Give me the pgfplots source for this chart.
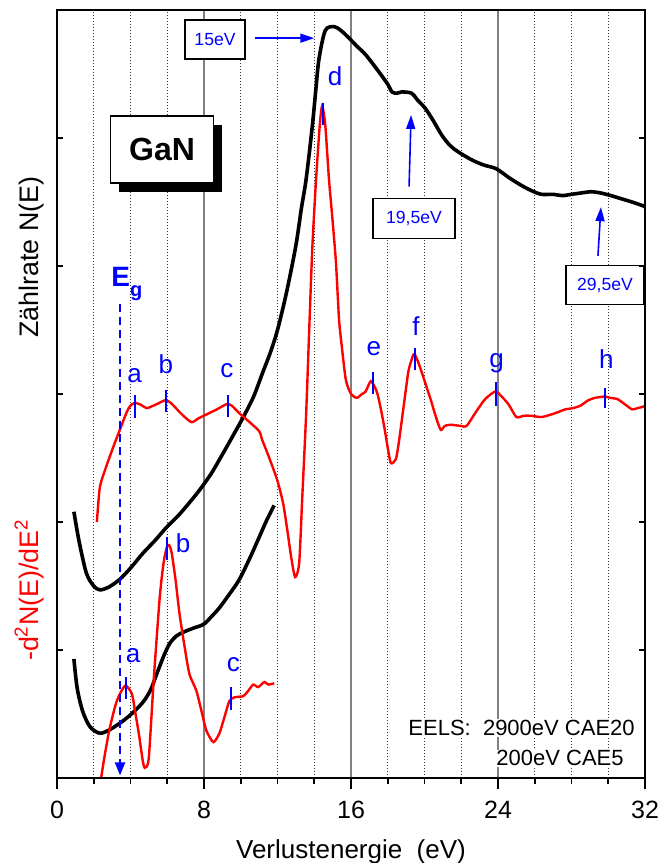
\documentclass[border=0pt]{standalone}
\usepackage{fontspec}
\setmainfont{Liberation Sans}
\usepackage{pgfplots}
\pgfplotsset{compat=1.18}
\usetikzlibrary{arrows.meta,shadows}
\definecolor{eblue}{RGB}{0,0,255}
\definecolor{ered}{RGB}{255,0,0}
\tikzset{
  pk/.style={eblue, line width=0.9bp},
  pkl/.style={text=eblue, font=\fontsize{13bp}{15bp}\selectfont, anchor=base, inner sep=0pt},
  ebox/.style={draw=black, line width=0.7bp, fill=white, text=eblue, inner sep=0pt,
               font=\fontsize{8.8bp}{10bp}\selectfont, minimum height=19.5bp},
  barr/.style={eblue, line width=0.8bp, -{Triangle[length=7bp,width=4.5bp]}},
}
\begin{document}
\begin{tikzpicture}
\begin{axis}[
  scale only axis, width=294bp, height=384bp,
  xmin=0, xmax=32, ymin=0, ymax=6,
  xtick={0,8,...,32}, minor xtick={2,4,6,10,12,14,18,20,22,26,28,30}, ytick=\empty,
  xtick pos=bottom, tick align=outside,
  major tick length=5.5bp, minor tick length=3bp,
  every tick/.style={black, line width=0.8bp},
  xmajorgrids, xminorgrids,
  major grid style={gray, line width=0.7bp},
  minor grid style={black!80, line width=0.4bp, dash pattern=on 0.6bp off 0.9bp},
  axis line style={line width=1.1bp},
  ticklabel style={font=\fontsize{12.5bp}{15bp}\selectfont},
  xticklabel style={yshift=-2.3bp},
  /pgf/number format/assume math mode=true,
  xlabel={Verlustenergie\ \ (eV)},
  xlabel style={font=\fontsize{13bp}{15bp}\selectfont, at={(axis description cs:0.5,0)},
                anchor=base, yshift=-40bp},
  clip=false,
]
% N(E), 2900 eV
\addplot[black, line width=1.8bp, smooth] coordinates {
(0.92,2.08) (1.2,1.85) (1.6,1.6) (2.0,1.5) (2.33,1.47) (2.8,1.49) (3.4,1.55) (4.0,1.64)
(4.7,1.76) (5.3,1.85) (5.97,1.96) (6.6,2.05) (7.2,2.15) (7.76,2.25) (8.4,2.38) (9.05,2.54)
(9.6,2.68) (10.14,2.82) (10.7,2.98) (11.2,3.17) (11.6,3.32) (12.0,3.5) (12.5,3.8) (13.0,4.16)
(13.3,4.45) (13.56,4.68) (13.9,5.1) (14.1,5.4) (14.26,5.62) (14.6,5.84) (15.08,5.87) (15.45,5.84)
(15.9,5.78) (16.3,5.72) (16.8,5.65) (17.5,5.52) (18.0,5.42) (18.23,5.36) (18.5,5.35) (18.77,5.36)
(19.3,5.35) (19.6,5.3) (20.05,5.23) (20.5,5.13) (20.95,5.02) (21.4,4.94) (21.85,4.89) (22.56,4.83)
(23.2,4.79) (23.9,4.76) (24.6,4.69) (25.27,4.63) (25.8,4.59) (26.36,4.56) (27.0,4.56) (27.5,4.55)
(28.0,4.56) (28.5,4.57) (29.07,4.58) (29.6,4.57) (30.15,4.55) (30.6,4.53) (31.07,4.51) (31.5,4.49)
(31.9,4.47) (32,4.46)};
% N(E), 200 eV
\addplot[black, line width=1.8bp, smooth] coordinates {
(0.92,0.93) (1.1,0.7) (1.4,0.52) (1.8,0.4) (2.33,0.35) (2.9,0.38) (3.63,0.45) (4.2,0.52)
(4.72,0.6) (5.1,0.69) (5.42,0.81) (5.8,0.95) (6.13,1.05) (6.5,1.11) (6.89,1.14) (7.4,1.17)
(7.97,1.2) (8.4,1.26) (8.84,1.33) (9.4,1.44) (9.92,1.55) (10.5,1.72) (11.0,1.88) (11.4,2.01)
(11.82,2.13)};
% -d2N/dE2, 2900 eV
\addplot[ered, line width=1.2bp, smooth, tension=0.4] coordinates {
(2.17,2.0) (2.33,2.27) (2.6,2.4) (2.87,2.51) (3.15,2.62) (3.42,2.72) (3.8,2.86) (4.0,2.91)
(4.23,2.93) (4.5,2.92) (4.88,2.89) (5.1,2.9) (5.42,2.92) (5.86,2.95) (6.1,2.94) (6.34,2.91)
(6.8,2.84) (7.32,2.78) (7.7,2.81) (8.13,2.84) (8.7,2.88) (9.22,2.92) (9.5,2.91) (9.92,2.85)
(10.4,2.79) (11.0,2.71) (11.17,2.64) (11.5,2.52) (11.98,2.33) (12.3,2.15) (12.53,1.94) (12.75,1.72)
(12.96,1.57) (13.18,1.68) (13.35,2.2) (13.56,2.85) (13.75,3.6) (13.9,4.16) (14.1,4.68) (14.3,5.1)
(14.43,5.25) (14.6,5.1) (14.8,4.68) (15.0,4.35) (15.18,4.03) (15.35,3.58) (15.5,3.37) (15.72,3.11)
(16.0,3.0) (16.32,2.97) (16.6,3.0) (16.8,3.02) (17.08,3.1) (17.4,3.02) (17.6,2.9) (17.8,2.75)
(18.0,2.58) (18.17,2.46) (18.44,2.49) (18.6,2.62) (18.77,2.8) (19.0,3.05) (19.14,3.19) (19.41,3.31)
(19.6,3.27) (19.85,3.17) (20.1,3.06) (20.33,2.96) (20.6,2.83) (20.88,2.72) (21.1,2.75) (21.42,2.76)
(22.0,2.75) (22.29,2.75) (22.8,2.86) (23.3,2.96) (23.86,3.02) (24.2,2.98) (24.57,2.92) (25.0,2.82)
(25.4,2.83) (25.8,2.83) (26.36,2.82) (26.9,2.84) (27.3,2.86) (27.66,2.88) (28.1,2.89) (28.5,2.91)
(28.9,2.95) (29.28,2.97) (29.8,2.98) (30.1,2.97) (30.5,2.96) (30.9,2.92) (31.3,2.88) (31.6,2.89)
(31.9,2.9) (32,2.91)};
% -d2N/dE2, 200 eV
\addplot[ered, line width=1.2bp, smooth, tension=0.4] coordinates {
(2.4,0.0) (2.6,0.18) (2.87,0.39) (3.25,0.6) (3.7,0.72) (4.07,0.66) (4.25,0.52) (4.45,0.35)
(4.65,0.15) (4.77,0.08) (4.99,0.15) (5.26,0.76) (5.59,1.41) (5.8,1.68) (5.97,1.8) (6.1,1.82)
(6.24,1.76) (6.45,1.55) (6.67,1.28) (6.95,1.02) (7.21,0.81) (7.59,0.68) (7.9,0.5) (8.13,0.37)
(8.51,0.28) (8.84,0.35) (9.1,0.47) (9.38,0.6) (9.65,0.63) (10.14,0.64) (10.4,0.68) (10.68,0.73)
(10.95,0.71) (11.28,0.75) (11.5,0.73) (11.82,0.74)};

% peak markers
\draw[pk] (axis cs:4.24,2.81) -- (axis cs:4.24,2.99);
\draw[pk] (axis cs:5.93,2.86) -- (axis cs:5.93,3.03);
\draw[pk] (axis cs:9.31,2.82) -- (axis cs:9.31,2.99);
\draw[pk] (axis cs:14.48,5.10) -- (axis cs:14.48,5.27);
\draw[pk] (axis cs:17.2,3.0) -- (axis cs:17.2,3.17);
\draw[pk] (axis cs:19.48,3.19) -- (axis cs:19.48,3.36);
\draw[pk] (axis cs:23.9,2.91) -- (axis cs:23.9,3.09);
\draw[pk] (axis cs:29.82,2.89) -- (axis cs:29.82,3.05);
\draw[pk] (axis cs:3.76,0.62) -- (axis cs:3.76,0.79);
\draw[pk] (axis cs:5.99,1.70) -- (axis cs:5.99,1.88);
\draw[pk] (axis cs:9.47,0.53) -- (axis cs:9.47,0.71);
\node[pkl] at (axis cs:4.23,3.09) {a};
\node[pkl] at (axis cs:5.93,3.16) {b};
\node[pkl] at (axis cs:9.25,3.125) {c};
\node[pkl] at (axis cs:15.13,5.41) {d};
\node[pkl] at (axis cs:17.25,3.30) {e};
\node[pkl] at (axis cs:19.54,3.46) {f};
\node[pkl] at (axis cs:23.93,3.21) {g};
\node[pkl] at (axis cs:29.9,3.2) {h};
\node[pkl] at (axis cs:4.14,0.90) {a};
\node[pkl] at (axis cs:6.86,1.76) {b};
\node[pkl] at (axis cs:9.6,0.83) {c};

% band gap
\draw[eblue, line width=1bp, dash pattern=on 4bp off 2.5bp,
      -{Triangle[length=6.5bp,width=5bp]}] (axis cs:3.43,3.70) -- (axis cs:3.43,0.02);
\node[anchor=base west, text=eblue, inner sep=0pt,
      font=\fontsize{14bp}{16bp}\selectfont\bfseries] at (axis cs:2.94,3.84)
      {E\raisebox{-0.35em}{\fontsize{10bp}{11bp}\selectfont g}};

% energy boxes and arrows
\node[ebox, minimum width=30bp] at (axis cs:8.6,5.77) {15eV};
\draw[barr] (axis cs:10.8,5.78) -- (axis cs:14.0,5.78);
\node[ebox, minimum width=41bp, minimum height=20bp] at (axis cs:19.43,4.37) {19,5eV};
\draw[barr] (axis cs:19.16,4.62) -- (axis cs:19.27,5.18);
\node[ebox, minimum width=39bp] at (axis cs:29.82,3.85) {29,5eV};
\draw[barr] (axis cs:29.44,4.08) -- (axis cs:29.6,4.46);

% sample box
\node[draw=black, line width=0.7bp, fill=white, minimum width=51.5bp, minimum height=33.5bp,
      font=\fontsize{16bp}{18bp}\selectfont\bfseries,
      drop shadow={shadow xshift=4bp, shadow yshift=-4.5bp, fill=black, opacity=1}]
      at (axis cs:5.72,4.91) {GaN};

% measurement text
\node[anchor=base west, fill=white, inner sep=0.5bp, font=\fontsize{11bp}{13bp}\selectfont]
      at (axis cs:19.05,0.33) {EELS:\ \ 2900eV CAE20};
\node[anchor=base west, fill=white, inner sep=0.5bp, font=\fontsize{11bp}{13bp}\selectfont]
      at (axis cs:23.84,0.094) {200eV CAE5};

% y labels
\node[rotate=90, anchor=base, inner sep=0pt, font=\fontsize{13.4bp}{16bp}\selectfont]
      at (axis cs:-1.03,4.07) {Zählrate N(E)};
\node[rotate=90, anchor=base, inner sep=0pt, text=ered, font=\fontsize{13.4bp}{16bp}\selectfont]
      at (axis cs:-1.03,1.47) {-d\textsuperscript{2}N(E)/dE\textsuperscript{2}};
\end{axis}
% frame with inward y ticks
\begin{axis}[
  scale only axis, width=294bp, height=384bp,
  xmin=0, xmax=32, ymin=0, ymax=6,
  xtick=\empty, ytick={1,...,5}, yticklabels={},
  tick align=inside, major tick length=3bp,
  every tick/.style={black, line width=0.8bp},
  axis line style={line width=1.1bp},
]
\end{axis}
\pgfresetboundingbox
\path (-28.5bp,-42.5bp) rectangle (302bp,389bp);
\end{tikzpicture}
\end{document}
